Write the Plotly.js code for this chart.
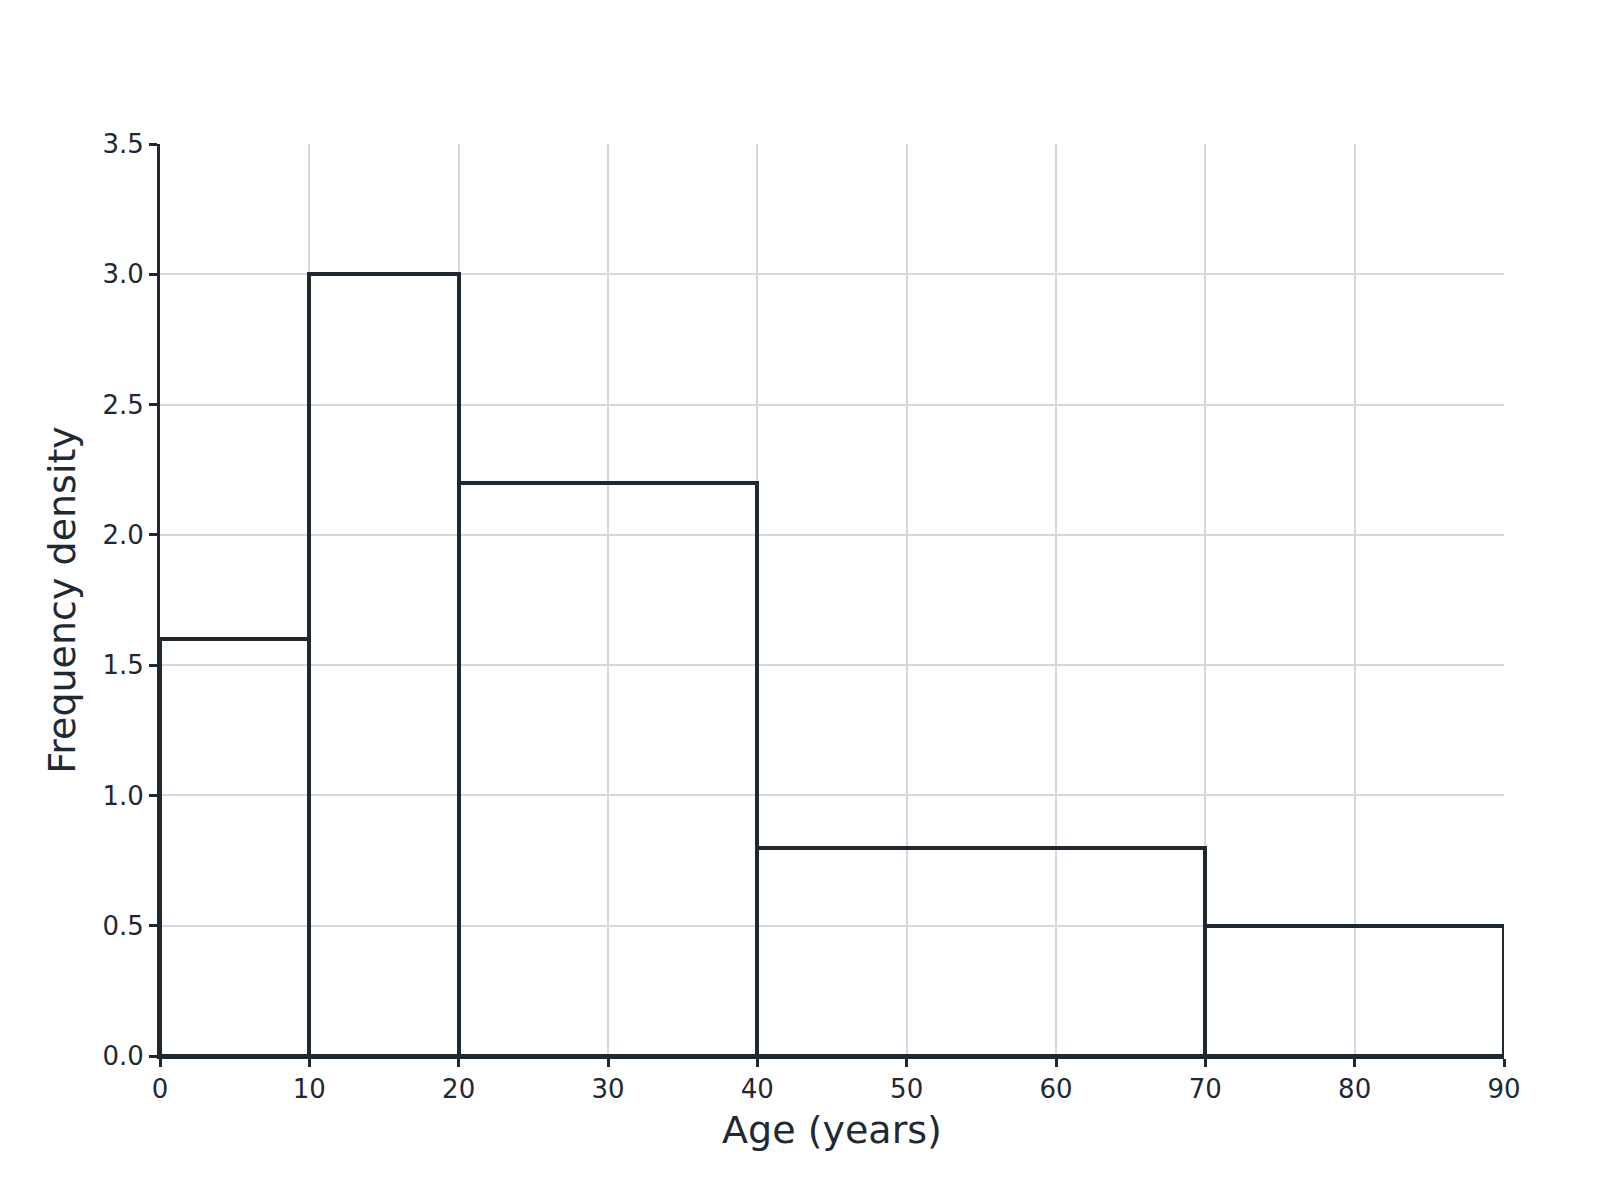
<!DOCTYPE html>
<html>
<head>
<meta charset="utf-8">
<script src="https://cdn.plot.ly/plotly-3.0.1.min.js"></script>
<style>
  body { margin: 0; background: #fff; }
  #plot { width: 1600px; height: 1200px; }
</style>
</head>
<body>
<div id="plot"></div>
<script>
// class boundaries and frequency densities
var binStart = [0, 10, 20, 40, 70];
var binEnd = [10, 20, 40, 70, 90];
var density = [1.6, 3.0, 2.2, 0.8, 0.5];

var widths = [];
for (var i = 0; i < binStart.length; i++) {
    widths.push(binEnd[i] - binStart[i]);
}

var ink = '#1f2933';

var data = [
    {
        type: 'bar',
        x: binStart,
        y: density,
        width: widths,
        offset: 0,
        marker: {
            color: 'rgba(0,0,0,0)',
            line: { color: ink, width: 4 }
        },
        hoverinfo: 'x+y',
        showlegend: false
    }
];

var layout = {
    width: 1600,
    height: 1200,
    paper_bgcolor: '#ffffff',
    plot_bgcolor: '#ffffff',
    margin: { l: 160, r: 96, t: 144, b: 144 },
    font: { family: 'DejaVu Sans, sans-serif', color: ink, size: 26 },
    bargap: 0,
    xaxis: {
        range: [0, 90],
        dtick: 10,
        tick0: 0,
        showgrid: true,
        gridcolor: '#d5d8de',
        gridwidth: 2,
        zeroline: false,
        showline: true,
        linecolor: ink,
        linewidth: 3,
        ticks: 'outside',
        ticklen: 8,
        tickwidth: 3,
        tickcolor: ink,
        tickfont: { size: 26 },
        title: { text: 'Age (years)', font: { size: 38 }, standoff: 14 }
    },
    yaxis: {
        range: [0, 3.5],
        dtick: 0.5,
        tick0: 0,
        tickformat: '.1f',
        showgrid: true,
        gridcolor: '#d5d8de',
        gridwidth: 2,
        zeroline: false,
        showline: true,
        linecolor: ink,
        linewidth: 3,
        ticks: 'outside',
        ticklen: 8,
        tickwidth: 3,
        tickcolor: ink,
        tickfont: { size: 26 },
        title: { text: 'Frequency density', font: { size: 38 }, standoff: 16 }
    }
};

Plotly.newPlot('plot', data, layout, { displayModeBar: false });
</script>
</body>
</html>
